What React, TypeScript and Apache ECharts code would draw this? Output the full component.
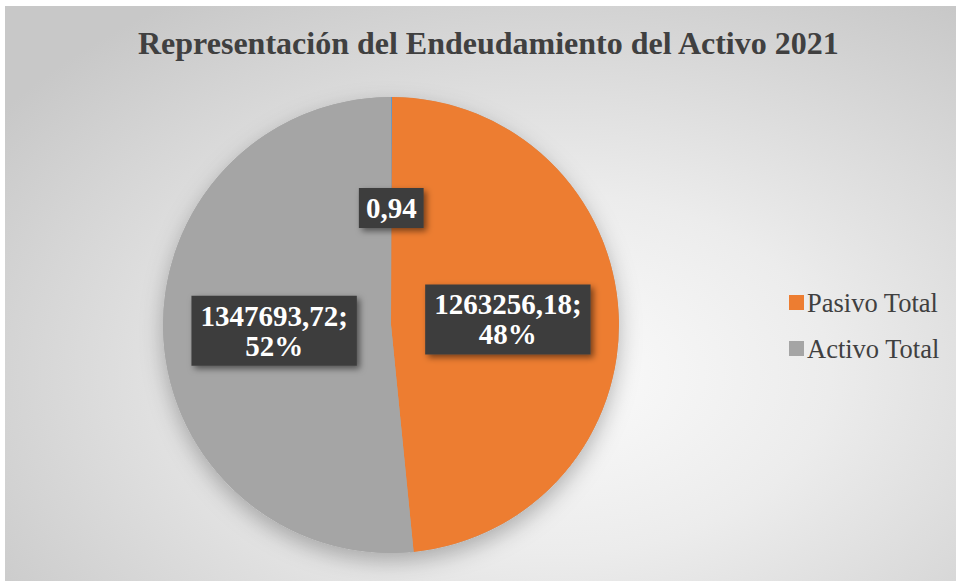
import React, { useEffect, useRef } from "react";
import * as echarts from "echarts";

const titleText = "Representación del Endeudamiento del Activo 2021";
const categories = ["Razón de Endeudamiento", "Pasivo Total", "Activo Total"];
const values = [0.94, 1263256.18, 1347693.72];
const colors = ["#5B9BD5", "#ED7D31", "#A5A5A5"];
const legendItems = ["Pasivo Total", "Activo Total"];

const fmt = (v: number) => v.toFixed(2).replace(".", ",");
const SERIF = "'Liberation Serif', 'Times New Roman', serif";

export default function App() {
  const ref = useRef<HTMLDivElement>(null);
  useEffect(() => {
    if (!ref.current) return;
    const chart = echarts.init(ref.current, undefined, { renderer: "svg" });
    const total = values.reduce((a, b) => a + b, 0);
    const labelText = {
      fontFamily: SERIF,
      fontWeight: "bold",
      fontSize: 29,
      lineHeight: 30,
      color: "#ffffff",
    };
    chart.setOption({
      animation: false,
      title: {
        text: titleText,
        left: 133,
        top: 22,
        textStyle: {
          fontFamily: SERIF,
          fontWeight: "bold",
          fontSize: 32,
          color: "#404040",
        },
      },
      legend: {
        data: legendItems,
        orient: "vertical",
        left: 784,
        top: 284,
        itemGap: 19,
        itemWidth: 15,
        itemHeight: 15,
        icon: "rect",
        textStyle: {
          fontFamily: SERIF,
          fontSize: 26.5,
          color: "#404040",
          padding: [0, 0, 0, -2],
        },
      },
      series: [
        {
          type: "pie",
          silent: true,
          center: [391, 325],
          radius: 228,
          z: 1,
          label: { show: false },
          labelLine: { show: false },
          itemStyle: {
            color: "#a8a8a8",
            shadowColor: "rgba(0,0,0,0.28)",
            shadowBlur: 22,
            shadowOffsetY: 8,
          },
          data: [{ name: "_bg", value: total }],
        },
        {
          type: "pie",
          center: [391, 325],
          radius: 228,
          startAngle: 90,
          clockwise: true,
          minAngle: 0.25,
          z: 2,
          itemStyle: { borderWidth: 0 },
          labelLine: { show: false },
          label: {
            show: true,
            position: "inside",
            ...labelText,
            backgroundColor: "#3d3d3d",
            padding: [5, 9],
            shadowColor: "rgba(0,0,0,0.5)",
            shadowBlur: 6,
            shadowOffsetX: 3,
            shadowOffsetY: 3,
            rich: { v: { ...labelText } },
            formatter: (p: any) =>
              p.dataIndex === 0
                ? `{v|${fmt(p.value)}}`
                : `{v|${fmt(p.value)};}\n{v|${Math.round(p.percent)}%}`,
          },
          data: categories.map((c, i) => ({
            name: c,
            value: values[i],
            itemStyle: { color: colors[i] },
            label: i === 0 ? { padding: [5, 7] } : undefined,
          })),
        },
      ],
    });
    return () => chart.dispose();
  }, []);

  return (
    <div
      style={{
        position: "absolute",
        left: 0,
        top: 0,
        width: 956,
        height: 581,
        background: "#ffffff",
        overflow: "hidden",
      }}
    >
      <div
        style={{
          position: "absolute",
          left: 5,
          top: 6,
          right: 0,
          bottom: 0,
          background:
            "radial-gradient(ellipse 72% 78% at 58% 64%, #fbfbfb 0%, #ececec 40%, #c8c8c8 100%)",
        }}
      />
      <div
        ref={ref}
        style={{ position: "absolute", left: 0, top: 0, width: 956, height: 581 }}
      />
    </div>
  );
}
